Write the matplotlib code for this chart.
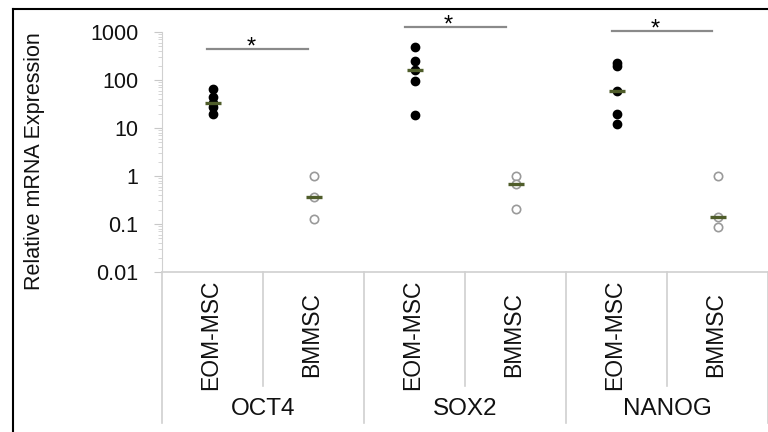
import matplotlib
matplotlib.use('Agg')
import matplotlib.pyplot as plt
from matplotlib.lines import Line2D
import matplotlib.ticker as mticker

plt.rcParams['font.family'] = ['Liberation Sans', 'DejaVu Sans']

genes = ['OCT4', 'SOX2', 'NANOG']
cells = ['EOM-MSC', 'BMMSC']

# values
oct4_eom = [65, 45, 33, 28, 20]
oct4_bm = [1.0, 0.37, 0.125]
sox2_eom = [490, 250, 160, 95, 19]
sox2_bm = [1.0, 0.68, 0.21]
nanog_eom = [230, 200, 58, 20, 12]
nanog_bm = [1.0, 0.14, 0.087]

medians = [33, 0.37, 160, 0.68, 58, 0.14]

# significance bars: (x start, x end, height)
sig_x0 = [-0.05, 1.906, 3.955]
sig_x1 = [0.95, 2.906, 4.946]
sig_y = [443, 1270, 1050]

groups = [oct4_eom, oct4_bm, sox2_eom, sox2_bm, nanog_eom, nanog_bm]

fig = plt.figure(figsize=(7.68, 4.32), dpi=100)
ax = fig.add_axes([162 / 768, 1 - 272 / 432, 606 / 768, 240 / 432])

for i, vals in enumerate(groups):
    if i % 2 == 0:
        ax.plot([i] * len(vals), vals, 'o', color='black', ms=6, zorder=3)
    else:
        ax.plot([i] * len(vals), vals, 'o', mfc='white', mec='#9a9a9a',
                mew=1.2, ms=6, zorder=3)
    ax.plot(i, medians[i], '_', color='#4f5d2a', ms=12, mew=2.4, zorder=4)

for x0, x1, y in zip(sig_x0, sig_x1, sig_y):
    ax.plot([x0, x1], [y, y], color='#8a8a8a', lw=1.6, clip_on=False)
    ax.text((x0 + x1) / 2 - 0.07, y * 0.8, '*', ha='center', va='baseline',
            fontsize=17, clip_on=False)

ax.set_yscale('log')
ax.set_ylim(0.01, 1000)
ax.set_xlim(-0.5, 5.5)

ax.yaxis.set_major_locator(mticker.FixedLocator([0.01, 0.1, 1, 10, 100, 1000]))
ax.yaxis.set_major_formatter(mticker.FixedFormatter(['0.01', '0.1', '1', '10', '100', '1000']))
ax.yaxis.set_minor_locator(mticker.LogLocator(base=10, subs=range(2, 10)))
ax.yaxis.set_minor_formatter(mticker.NullFormatter())
ax.tick_params(axis='y', which='major', length=6, color='#c8c8c8',
               labelsize=15.5, pad=11, labelcolor='#111111')
ax.tick_params(axis='y', which='minor', length=3, color='#d0d0d0')
ax.set_xticks([])

for s in ['top', 'right']:
    ax.spines[s].set_visible(False)
ax.spines['left'].set_color('#d0d0d0')
ax.spines['bottom'].set_color('#d0d0d0')
ax.spines['bottom'].set_linewidth(1.2)

# category table below the axis
trans = ax.get_xaxis_transform()
for k in range(7):
    x = k - 0.5
    depth = -0.629 if k % 2 == 0 else -0.475
    ax.plot([x, x], [0, depth], color='#d0d0d0', lw=1.2, transform=trans,
            clip_on=False)

for i in range(6):
    ax.text(i - 0.02, -0.262, cells[i % 2], rotation=90, ha='center',
            va='center', fontsize=16.5, color='#111111', transform=trans)

for g, name in enumerate(genes):
    ax.text(2 * g + 0.5, -0.571, name, ha='center', va='center',
            fontsize=17.5, color='#111111', transform=trans)

fig.text(34.5 / 768, 1 - 161 / 432, 'Relative mRNA Expression', rotation=90,
         ha='center', va='center', fontsize=15.5, color='#111111')

# frame of the original figure panel
fig.add_artist(Line2D([13 / 768, 1], [1 - 9 / 432, 1 - 9 / 432],
                      color='black', lw=1.5, transform=fig.transFigure))
fig.add_artist(Line2D([13 / 768, 13 / 768], [0, 1 - 9 / 432],
                      color='black', lw=1.5, transform=fig.transFigure))

fig.savefig('out.png', dpi=100)
